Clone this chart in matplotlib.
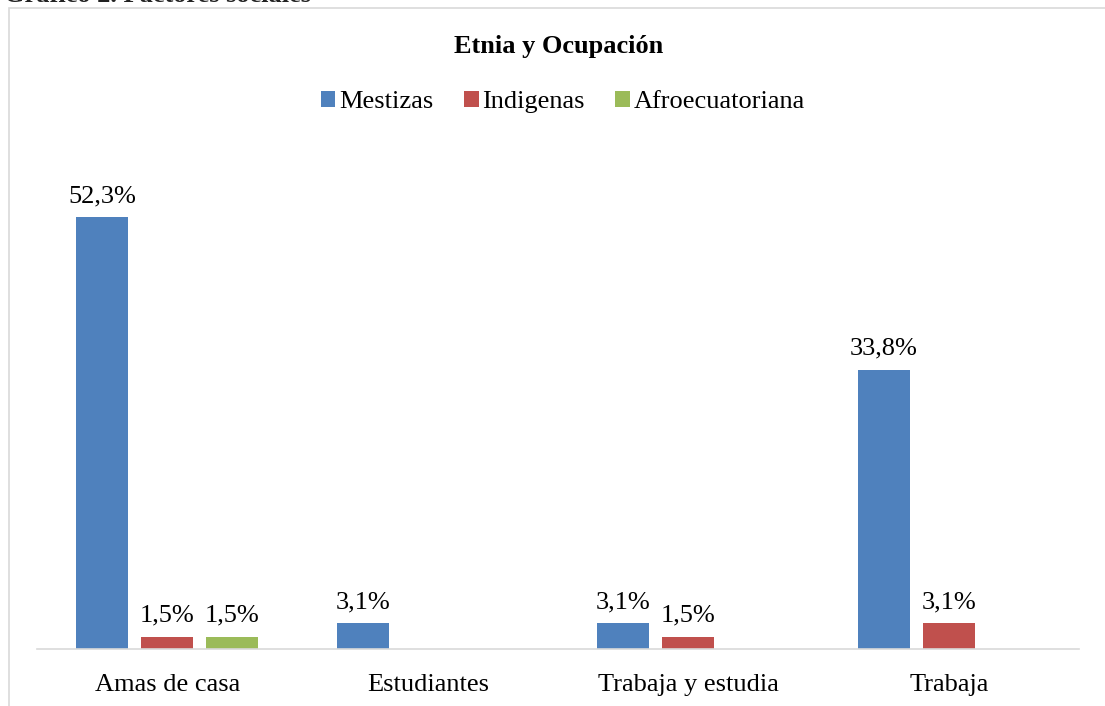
import matplotlib; matplotlib.use('Agg')
import matplotlib.pyplot as plt
from matplotlib.patches import Rectangle
import numpy as np

plt.rcParams['font.family'] = ['Liberation Serif', 'DejaVu Serif']

categories = ["Amas de casa", "Estudiantes", "Trabaja y estudia", "Trabaja"]
series = ["Mestizas", "Indigenas", "Afroecuatoriana"]
mestizas = [52.3, 3.1, 3.1, 33.8]
indigenas = [1.5, None, 1.5, 3.1]
afro = [1.5, None, None, None]
colors = ['#4f81bd', '#c0504d', '#9bbb59']

W, H = 1105, 706
fig = plt.figure(figsize=(W/100, H/100), dpi=100)
fig.patch.set_facecolor('white')

# chart frame (cut off on right/bottom like the source)
fig.patches.append(Rectangle((9/W, -0.05), 1.2, 1 - 8.5/H + 0.05, transform=fig.transFigure,
                             fill=False, ec='#d9d9d9', lw=1.2))
# caption cut off at the top, as in the source screenshot
fig.text(4/W, 1 - 2/H, "Gráfico 2. Factores sociales", fontsize=19, fontweight='bold',
         ha='left', va='baseline', color='#222222')

ax = fig.add_axes([37/W, 57/H, 1042/W, 495.6/H])
x = np.arange(len(categories))
w, step = 0.2, 0.25
for i, (vals, c) in enumerate(zip([mestizas, indigenas, afro], colors)):
    xs = [xi + (i-1)*step for xi, v in zip(x, vals) if v is not None]
    vs = [v for v in vals if v is not None]
    ax.bar(xs, vs, width=w, color=c, label=series[i], zorder=2)
    for xx, v in zip(xs, vs):
        ax.text(xx, v + 1.2, f"{v:.1f}%".replace('.', ','), ha='center', va='bottom', fontsize=19)

ax.set_xlim(-0.5, len(categories) - 0.5)
ax.set_ylim(0, 60)
ax.set_xticks(x)
ax.set_xticklabels(categories, fontsize=19)
ax.tick_params(axis='x', length=0, pad=18)
ax.set_yticks([])
for s in ['top', 'right', 'left']:
    ax.spines[s].set_visible(False)
ax.spines['bottom'].set_color('#d9d9d9')
ax.spines['bottom'].set_linewidth(1.2)

fig.text(559/W, 1 - 46/H, "Etnia y Ocupación", fontsize=19, fontweight='bold', ha='center', va='center')
fig.legend(loc='center', bbox_to_anchor=(563/W, 1 - 102/H), ncol=3, frameon=False, fontsize=19,
           handlelength=0.55, handleheight=0.55, handletextpad=0.15, columnspacing=1.15)

fig.savefig('out.png', dpi=100, facecolor='white')
